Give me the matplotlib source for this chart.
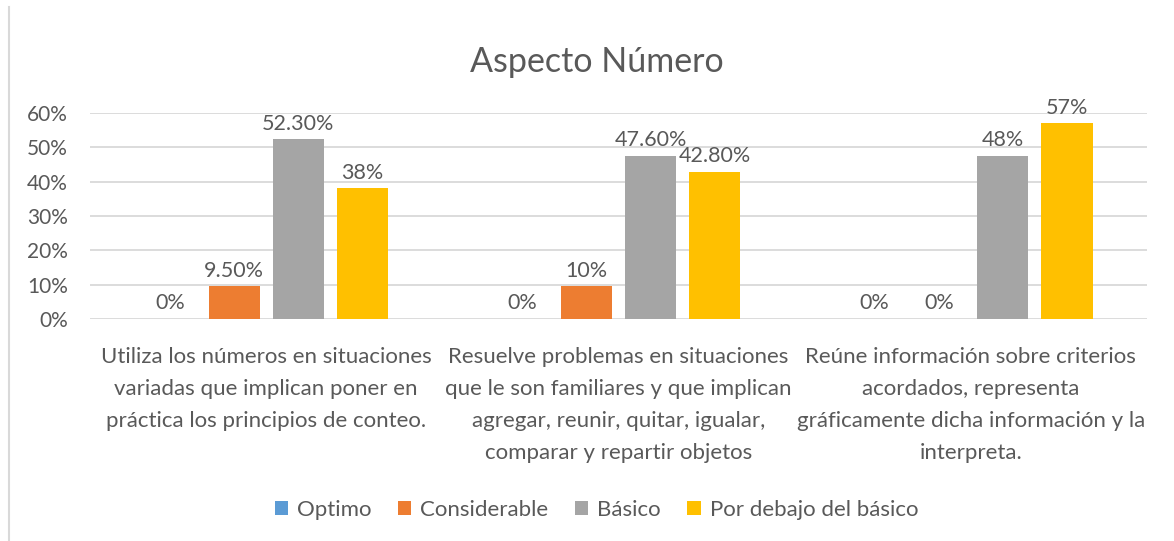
import matplotlib.pyplot as plt
import numpy as np
from matplotlib.lines import Line2D
from matplotlib.ticker import PercentFormatter

plt.rcParams['font.family'] = ['Lato', 'DejaVu Sans']

# datos del grafico
categorias = [
    'Utiliza los números en situaciones\nvariadas que implican poner en\npráctica los principios de conteo.',
    'Resuelve problemas en situaciones\nque le son familiares y que implican\nagregar, reunir, quitar, igualar,\ncomparar y repartir objetos',
    'Reúne información sobre criterios\nacordados, representa\ngráficamente dicha información y la\ninterpreta.',
]
series = ['Optimo', 'Considerable', 'Básico', 'Por debajo del básico']
optimo = [0.0, 0.0, 0.0]
considerable = [0.095, 0.095, 0.0]
basico = [0.523, 0.476, 0.476]
por_debajo = [0.38, 0.428, 0.57]
etiquetas = [
    ['0%', '0%', '0%'],
    ['9.50%', '10%', '0%'],
    ['52.30%', '47.60%', '48%'],
    ['38%', '42.80%', '57%'],
]
colores = ['#5B9BD5', '#ED7D31', '#A5A5A5', '#FFC000']

texto = '#595959'

fig = plt.figure(figsize=(11.74, 5.41), dpi=100)
ax = fig.add_axes([0.0767, 0.4104, 0.9003, 0.3808])

x = np.arange(len(categorias))
ancho = 0.145
paso = 0.182
valores = [optimo, considerable, basico, por_debajo]

for i, (nombre, vals, col) in enumerate(zip(series, valores, colores)):
    pos = x + (i - 1.5) * paso
    barras = ax.bar(pos, vals, width=ancho, color=col, label=nombre, zorder=3)
    for b, lab in zip(barras, etiquetas[i]):
        ax.annotate(lab, (b.get_x() + b.get_width() / 2, b.get_height()),
                    xytext=(0, 4), textcoords='offset points',
                    ha='center', va='bottom', fontsize=15.5, color=texto)

ax.set_xlim(-0.5, 2.5)
ax.set_ylim(0, 0.6)
ax.set_yticks(np.arange(0, 0.61, 0.1))
ax.yaxis.set_major_formatter(PercentFormatter(1.0, decimals=0))
ax.grid(axis='y', color='#D9D9D9', linewidth=1.3, zorder=0)
ax.set_xticks(x)
ax.set_xticklabels(categorias, fontsize=16, color=texto, linespacing=1.76, va='top')
ax.tick_params(axis='both', length=0, colors=texto)
ax.tick_params(axis='y', pad=16, labelsize=15)
ax.tick_params(axis='x', pad=20)
for s in ax.spines.values():
    s.set_visible(False)

fig.suptitle('Aspecto Número', x=0.508, y=0.915, fontsize=24.5, color=texto)

fig.legend(loc='center', bbox_to_anchor=(0.508, 0.058), ncol=4, frameon=False,
           fontsize=16, handlelength=0.6, handleheight=0.6, handletextpad=0.4,
           columnspacing=1.2, labelcolor=texto)

# borde izquierdo del grafico
fig.add_artist(Line2D([9 / 1174, 9 / 1174], [0, 1 - 7 / 541], color='#D9D9D9', linewidth=1.5))

fig.savefig('out.png', dpi=100)
